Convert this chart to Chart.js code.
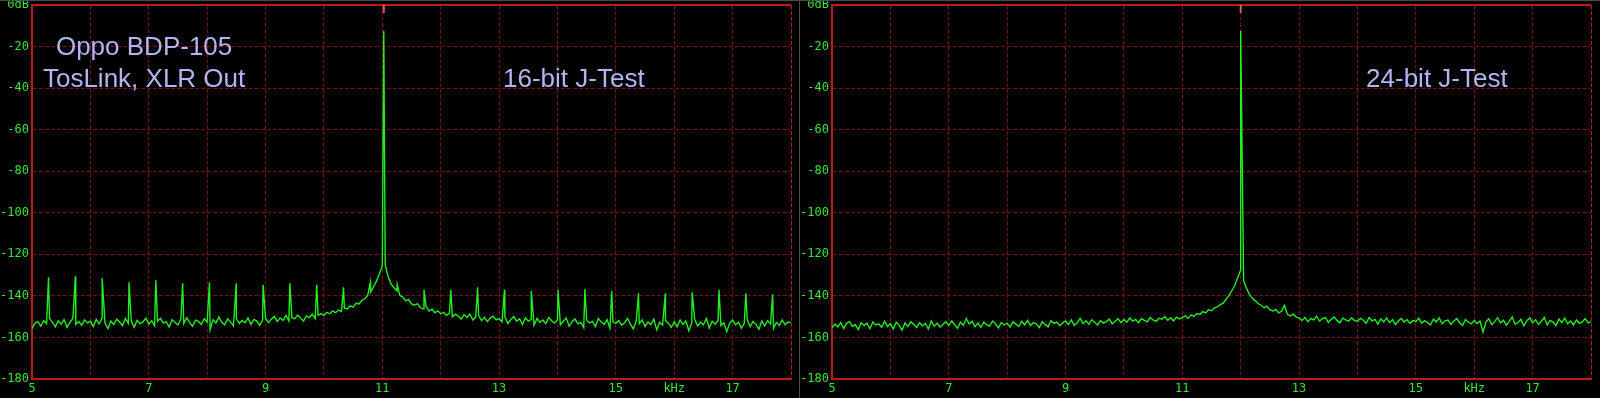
<!DOCTYPE html>
<html>
<head>
<meta charset="utf-8">
<script src="https://cdn.jsdelivr.net/npm/chart.js@4.4.1/dist/chart.umd.min.js"></script>
<style>
html, body { margin: 0; padding: 0; background: #000; }
#wrap { position: relative; width: 1600px; height: 398px; background: #000; overflow: hidden; }
#wrap canvas { position: absolute; top: 0; }
#left { left: 0; }
#right { left: 800px; }
.sep { position: absolute; background: #4a4a4a; }
</style>
</head>
<body>
<div id="wrap">
  <canvas id="left" width="800" height="398"></canvas>
  <canvas id="right" width="800" height="398"></canvas>
  <div class="sep" style="left:0;top:0;width:1600px;height:1px"></div>
  <div class="sep" style="left:799px;top:0;width:1px;height:398px"></div>
</div>
<script>
// spectrum is sampled every 50 Hz from 5 kHz to 18 kHz (dB)
const freqStart = 5;
const freqStep = 0.05;

const noise16 = [
  -155.8, -153.1, -152.4, -154.6, -151.9, -153.3, -150.8, -152.7, -154.9, -152.0, -153.6, -151.4, -155.2, -152.8, -150.9, -153.7, -152.3, -154.1, -151.6, -153.0,
  -152.2, -154.8, -151.3, -153.5, -150.6, -152.9, -155.7, -152.1, -153.8, -151.2, -152.6, -154.3, -150.9, -153.2, -152.0, -155.1, -151.8, -153.4, -152.5, -150.7,
  -153.6, -151.9, -154.4, -152.2, -150.8, -153.1, -152.4, -155.0, -151.5, -152.8, -154.0, -151.2, -153.3, -150.5, -152.9, -154.6, -151.7, -152.3, -153.8, -151.0,
  -152.6, -156.4, -151.4, -153.0, -150.2, -152.7, -153.9, -151.1, -152.4, -154.5, -150.9, -153.2, -151.8, -152.9, -150.6, -153.7, -151.3, -152.1, -154.2, -151.6,
  -150.8, -152.9, -151.2, -149.9, -152.3, -150.6, -151.8, -149.4, -152.0, -150.3, -151.1, -149.2, -150.7, -152.1, -149.6, -150.4, -148.8, -150.9, -149.3, -148.6,
  -149.4, -147.9, -148.6, -147.2, -148.1, -146.8, -147.5, -145.9, -146.3, -144.8, -145.4, -143.6, -143.9, -142.1, -141.4, -139.8, -138.2, -135.6, -132.9, -129.4,
  -125.5, -125.0, -130.8, -134.2, -136.1, -137.6, -139.8, -140.6, -142.3, -141.8, -143.9, -144.5, -143.7, -145.6, -146.2, -145.1, -147.3, -146.4, -148.1, -147.2,
  -148.6, -147.9, -149.4, -148.3, -150.1, -148.8, -149.7, -151.2, -149.0, -150.4, -148.7, -151.6, -150.2, -149.5, -151.9, -150.3, -152.4, -150.6, -149.8, -151.5,
  -150.9, -152.6, -150.1, -153.3, -151.4, -149.9, -152.2, -151.0, -153.8, -150.5, -152.1, -151.3, -154.2, -150.8, -152.7, -151.6, -153.4, -150.4, -152.0, -153.1,
  -151.5, -153.9, -152.2, -150.7, -154.6, -152.4, -151.1, -153.5, -152.8, -155.3, -151.7, -153.0, -152.3, -154.8, -150.9, -152.6, -153.7, -151.4, -155.6, -152.5,
  -153.2, -151.8, -154.1, -152.9, -150.8, -153.6, -155.9, -152.0, -153.4, -151.5, -154.7, -152.6, -153.8, -151.2, -156.3, -152.8, -154.0, -151.9, -153.1, -155.2,
  -152.4, -154.9, -151.6, -153.7, -152.1, -156.8, -153.0, -151.3, -154.5, -152.7, -153.9, -150.9, -155.4, -152.2, -153.6, -151.8, -154.3, -152.9, -157.2, -153.1,
  -151.7, -154.0, -152.6, -155.5, -153.2, -151.4, -154.8, -152.3, -153.7, -156.1, -152.0, -154.4, -151.9, -153.5, -155.7, -152.8, -154.2, -151.6, -153.9, -152.5,
  -153.0
];

// J-test sidebands of the 16-bit signal
const spurFreq16 = [5.283, 5.743, 6.202, 6.662, 7.121, 7.580, 8.040, 8.499, 8.958, 9.417, 9.877, 10.336, 10.795,
  11.255, 11.714, 12.173, 12.632, 13.092, 13.551, 14.010, 14.470, 14.929, 15.388, 15.848, 16.307, 16.767, 17.226, 17.685];
const spurLevel16 = [-131.0, -130.6, -131.5, -133.5, -132.5, -133.9, -133.5, -133.9, -134.7, -133.9, -134.7, -135.9, -133.5,
  -134.5, -137.1, -137.1, -135.9, -137.1, -137.6, -137.1, -136.7, -137.6, -138.7, -138.7, -138.3, -137.1, -138.7, -139.2];

const noise24 = [
  -155.4, -153.6, -154.9, -152.8, -155.7, -153.2, -152.4, -154.6, -153.9, -156.2, -152.9, -154.3, -153.1, -155.8, -152.6, -154.0, -153.5, -155.1, -152.2, -154.7,
  -153.4, -155.9, -152.7, -154.2, -156.5, -153.0, -154.8, -152.5, -153.7, -155.3, -152.9, -154.4, -153.3, -156.0, -152.1, -154.6, -153.2, -155.0, -153.8, -152.4,
  -154.3, -152.0, -153.9, -155.6, -152.7, -154.1, -150.9, -153.5, -152.3, -154.8, -153.0, -155.2, -152.6, -153.8, -154.5, -152.1, -153.4, -155.4, -152.8, -154.0,
  -153.1, -155.0, -152.5, -153.6, -154.7, -152.2, -153.9, -151.8, -154.3, -152.9, -153.5, -155.3, -152.4, -153.7, -154.9, -151.9, -153.2, -152.6, -154.4, -153.0,
  -152.1, -153.8, -151.6, -154.2, -152.9, -150.8, -153.3, -152.0, -153.7, -151.5, -152.8, -154.0, -151.9, -153.1, -152.4, -151.2, -153.5, -152.2, -151.0, -152.9,
  -151.4, -152.7, -150.6, -152.1, -151.3, -153.0, -150.9, -151.8, -152.5, -150.4, -151.6, -152.3, -150.8, -151.2, -149.9, -151.7, -150.5, -152.0, -150.2, -151.1,
  -150.3, -149.6, -150.8, -149.1, -149.9, -148.5, -148.9, -147.6, -148.2, -146.7, -147.1, -145.8, -145.3, -144.2, -143.5, -141.6, -139.8, -137.4, -134.9, -131.2,
  -127.5, -132.6, -136.4, -139.3, -141.2, -142.4, -143.8, -144.5, -145.7, -145.0, -146.6, -147.3, -146.5, -148.2, -147.4, -144.6, -148.9, -149.7, -148.8, -150.2,
  -150.6, -151.9, -150.3, -152.4, -150.9, -151.6, -149.8, -152.1, -151.0, -150.4, -152.7, -151.3, -150.1, -151.8, -153.0, -150.7, -151.5, -152.2, -150.5, -151.9,
  -152.3, -150.8, -151.7, -153.2, -150.4, -152.0, -151.3, -153.6, -151.1, -152.5, -150.6, -152.9, -151.4, -153.8, -152.1, -150.9, -152.6, -151.5, -153.3, -151.8,
  -152.4, -150.7, -153.1, -151.9, -152.8, -154.0, -151.2, -152.5, -150.6, -153.4, -152.0, -151.6, -153.7, -152.2, -150.9, -152.9, -154.2, -151.4, -152.7, -153.5,
  -151.8, -153.3, -152.1, -157.4, -152.6, -151.0, -153.8, -152.4, -150.5, -153.0, -151.7, -154.1, -152.3, -150.2, -153.6, -152.8, -151.3, -154.5, -152.0, -150.6,
  -152.9, -151.5, -153.7, -152.2, -150.4, -153.9, -151.8, -152.6, -154.3, -151.1, -152.8, -150.7, -153.4, -152.1, -154.0, -151.6, -153.2, -152.5, -150.9, -153.0,
  -152.4
];

// test tone (kHz, dB)
const toneFreq16 = 11.025;
const toneFreq24 = 12.0;
const toneLevel = -12.5;

const xLabelled = [5, 7, 9, 11, 13, 15, 17];
const unitLabel = 'kHz';
const unitAt = 16;

const borderRed = '#b81c1c';
const gridRed = '#701212';
const tickGreen = '#3ae43a';
const traceGreen = '#22ee22';
const noteColor = '#b4b4f0';

function buildSeries(noise, extraF, extraL) {
  const pts = noise.map((v, i) => ({ x: +(freqStart + i * freqStep).toFixed(3), y: v }));
  extraF.forEach((f, i) => pts.push({ x: f, y: extraL[i] }));
  pts.sort((a, b) => a.x - b.x);
  return pts;
}

const frame = {
  id: 'frame',
  afterDraw(chart, args, opts) {
    const { ctx, chartArea: a, scales: { x, y } } = chart;
    ctx.save();
    ctx.strokeStyle = borderRed;
    ctx.lineWidth = 2;
    ctx.beginPath();
    ctx.moveTo(a.left - 1, a.top);
    ctx.lineTo(a.right, a.top);
    ctx.stroke();
    // marker over the tone
    const tx = x.getPixelForValue(opts.tone);
    ctx.strokeStyle = '#e05a5a';
    ctx.beginPath();
    ctx.moveTo(tx, a.top);
    ctx.lineTo(tx, a.top + 8);
    ctx.stroke();
    ctx.fillStyle = noteColor;
    ctx.font = '26px "Liberation Sans", Arial, sans-serif';
    ctx.textAlign = 'center';
    ctx.textBaseline = 'alphabetic';
    opts.notes.forEach(n => ctx.fillText(n.text, x.getPixelForValue(n.x), y.getPixelForValue(n.y)));
    ctx.restore();
  }
};

function makeChart(id, data, tone, notes) {
  return new Chart(document.getElementById(id), {
    type: 'line',
    data: {
      datasets: [{
        data: data,
        borderColor: traceGreen,
        borderWidth: 1.4,
        pointRadius: 0,
        tension: 0
      }]
    },
    options: {
      responsive: false,
      animation: false,
      devicePixelRatio: 1,
      parsing: false,
      layout: { padding: { top: 5, right: 9, left: 0, bottom: 0 } },
      plugins: {
        legend: { display: false },
        tooltip: { enabled: false },
        frame: { tone: tone, notes: notes }
      },
      scales: {
        x: {
          type: 'linear',
          min: 5,
          max: 18,
          afterFit: s => { s.height = 19; s.paddingLeft = 0; s.paddingRight = 0; },
          ticks: {
            stepSize: 1,
            autoSkip: false,
            maxRotation: 0,
            padding: 3,
            color: tickGreen,
            font: { family: '"DejaVu Sans Mono", monospace', size: 12 },
            callback: v => v === unitAt ? unitLabel : (xLabelled.includes(v) ? String(v) : '')
          },
          grid: {
            drawTicks: false,
            color: c => (c.tick && (c.tick.value === 18 || c.tick.value === 5)) ? borderRed : gridRed,
            lineWidth: 1
          },
          border: { color: borderRed, width: 2, dash: [4, 2] }
        },
        y: {
          min: -180,
          max: 0,
          afterFit: s => { s.width = 32; s.paddingTop = 0; s.paddingBottom = 0; },
          ticks: {
            stepSize: 20,
            padding: 3,
            color: tickGreen,
            font: { family: '"DejaVu Sans Mono", monospace', size: 12 },
            callback: v => v === 0 ? '0dB' : String(v)
          },
          grid: {
            drawTicks: false,
            color: c => (c.tick && (c.tick.value === 0 || c.tick.value === -180)) ? borderRed : gridRed,
            lineWidth: 1
          },
          border: { color: borderRed, width: 2, dash: [4, 2] }
        }
      }
    },
    plugins: [frame]
  });
}

makeChart('left', buildSeries(noise16, spurFreq16.concat([toneFreq16]), spurLevel16.concat([toneLevel])), toneFreq16, [
  { text: 'Oppo BDP-105', x: 6.92, y: -24 },
  { text: 'TosLink, XLR Out', x: 6.92, y: -39.6 },
  { text: '16-bit J-Test', x: 14.28, y: -39.6 }
]);

makeChart('right', buildSeries(noise24, [toneFreq24], [toneLevel]), toneFreq24, [
  { text: '24-bit J-Test', x: 15.36, y: -39.6 }
]);
</script>
</body>
</html>
